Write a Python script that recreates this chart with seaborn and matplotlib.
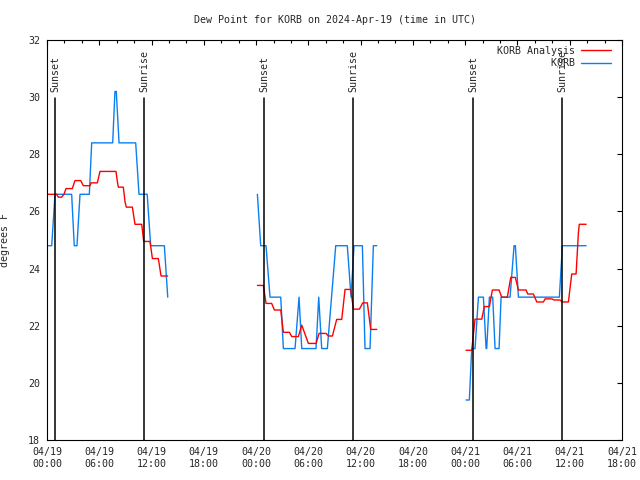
import pandas as pd
import seaborn as sns
import matplotlib.pyplot as plt
import matplotlib.dates as mdates
import matplotlib.transforms as mtransforms
from matplotlib.lines import Line2D

# hours after 2024-04-19 00:00 UTC, dew point in degrees F
obs_hours_1 = [0.15, 0.54, 0.92, 2.83, 3.13, 3.44, 3.79, 4.86, 5.13, 7.54, 7.80, 7.95,
               8.27, 10.18, 10.56, 11.50, 11.90, 13.47, 13.86]
obs_vals_1 = [24.8, 24.8, 26.6, 26.6, 24.8, 24.8, 26.6, 26.6, 28.4, 28.4, 30.2, 30.2,
              28.4, 28.4, 26.6, 26.6, 24.8, 24.8, 23.0]
obs_hours_2 = [24.15, 24.53, 25.14, 25.60, 26.83, 27.13, 28.47, 28.93, 29.24, 30.88, 31.19,
               31.53, 32.18, 33.14, 34.47, 34.90, 35.24, 36.20, 36.50, 37.08, 37.46, 37.85]
obs_vals_2 = [26.6, 24.8, 24.8, 23.0, 23.0, 21.2, 21.2, 23.0, 21.2, 21.2, 23.0,
              21.2, 21.2, 24.8, 24.8, 23.0, 24.8, 24.8, 21.2, 21.2, 24.8, 24.8]
obs_hours_3 = [48.10, 48.48, 48.75, 49.13, 49.52, 50.09, 50.40, 50.47, 50.78, 51.16, 51.43,
               51.89, 52.12, 53.15, 53.61, 53.76, 54.11, 58.81, 59.16, 61.88]
obs_vals_3 = [19.4, 19.4, 21.2, 21.2, 23.0, 23.0, 21.2, 21.2, 23.0, 23.0, 21.2,
              21.2, 23.0, 23.0, 24.8, 24.8, 23.0, 23.0, 24.8, 24.8]

ana_hours_1 = [0.15, 1.11, 1.30, 1.68, 1.95, 2.18, 2.91, 3.21, 3.87, 4.17, 4.94, 5.05, 5.78,
               6.08, 7.92, 8.05, 8.19, 8.76, 8.95, 9.10, 9.80, 10.10, 10.87, 11.10, 11.82,
               12.10, 12.78, 13.09, 13.85]
ana_vals_1 = [26.6, 26.6, 26.5, 26.5, 26.6, 26.8, 26.8, 27.08, 27.08, 26.9, 26.9, 27.0, 27.0,
              27.4, 27.4, 27.1, 26.85, 26.85, 26.35, 26.15, 26.15, 25.55, 25.55, 24.95, 24.95,
              24.35, 24.35, 23.74, 23.74]
ana_hours_2 = [24.15, 24.83, 25.14, 25.79, 26.10, 26.83, 27.13, 27.82, 28.09, 28.85, 29.24,
               30.00, 30.88, 31.23, 32.03, 32.30, 32.76, 33.25, 33.83, 34.21, 34.86, 35.17,
               35.86, 36.24, 36.77, 37.16, 37.85]
ana_vals_2 = [23.41, 23.41, 22.78, 22.78, 22.55, 22.55, 21.77, 21.77, 21.62, 21.62, 22.02,
              21.38, 21.38, 21.73, 21.73, 21.64, 21.64, 22.22, 22.22, 23.27, 23.27, 22.58,
              22.58, 22.80, 22.80, 21.87, 21.87]
ana_hours_3 = [48.10, 48.75, 49.13, 49.90, 50.20, 50.78, 51.12, 51.89, 52.19, 52.84, 53.23,
               53.76, 54.11, 54.99, 55.18, 55.83, 56.22, 56.98, 57.17, 57.94, 58.20, 58.89,
               59.16, 59.85, 60.23, 60.73, 61.00, 61.10, 61.88]
ana_vals_3 = [21.14, 21.14, 22.23, 22.23, 22.67, 22.67, 23.25, 23.25, 23.0, 23.0, 23.69,
              23.69, 23.25, 23.25, 23.11, 23.11, 22.83, 22.83, 22.94, 22.94, 22.90, 22.90,
              22.83, 22.83, 23.81, 23.81, 25.27, 25.55, 25.55]

sunset_hours = [0.95, 24.95, 48.94]
sunrise_hours = [11.17, 35.17, 59.16]

start = pd.Timestamp("2024-04-19 00:00")


def to_time(hours):
    return start + pd.to_timedelta(hours, unit="h")


rows = []
for seg, (h, v) in enumerate([(obs_hours_1, obs_vals_1), (obs_hours_2, obs_vals_2),
                              (obs_hours_3, obs_vals_3)]):
    rows.append(pd.DataFrame({"time": to_time(h), "value": v, "series": "KORB", "seg": f"o{seg}"}))
for seg, (h, v) in enumerate([(ana_hours_1, ana_vals_1), (ana_hours_2, ana_vals_2),
                              (ana_hours_3, ana_vals_3)]):
    rows.append(pd.DataFrame({"time": to_time(h), "value": v, "series": "KORB Analysis", "seg": f"a{seg}"}))
df = pd.concat(rows, ignore_index=True)

sns.set_style("white")
plt.rcParams["font.family"] = ["DejaVu Sans Mono"]
plt.rcParams["font.size"] = 7.2

colors = {"KORB Analysis": "#ff0000", "KORB": "#0a80f0"}

fig = plt.figure(figsize=(6.4, 4.8), dpi=100)
ax = fig.add_axes([47 / 640, 40 / 480, 575 / 640, 400 / 480])

sns.lineplot(data=df, x="time", y="value", hue="series", units="seg", estimator=None,
             palette=colors, linewidth=1.0, legend=False, ax=ax)

trans = mtransforms.blended_transform_factory(ax.transData, ax.transAxes)
for label, hrs in [("Sunset", sunset_hours), ("Sunrise", sunrise_hours)]:
    for h in hrs:
        t = mdates.date2num(to_time(h))
        ax.axvline(t, ymin=0, ymax=0.855, color="black", linewidth=1.1)
        ax.text(t, 0.87, label, rotation=90, ha="center", va="bottom", transform=trans)

ax.set_xlim(to_time(0), to_time(66))
ax.set_ylim(18, 32)
ax.set_yticks(range(18, 33, 2))
ax.xaxis.set_major_locator(mdates.HourLocator(byhour=range(0, 24, 6)))
ax.xaxis.set_minor_locator(mdates.HourLocator(byhour=range(0, 24, 2)))
ax.xaxis.set_major_formatter(mdates.DateFormatter("%m/%d\n%H:%M"))
ax.tick_params(which="both", direction="in", top=True, right=True, width=0.8, color="black")
ax.tick_params(which="major", length=3.5)
ax.tick_params(which="minor", length=2.5)
ax.tick_params(axis="x", pad=5)
ax.tick_params(axis="y", pad=5)
for s in ax.spines.values():
    s.set_color("black")
    s.set_linewidth(0.8)

ax.set_xlabel("")
ax.set_ylabel("degrees F", fontsize=7.2)
ax.yaxis.set_label_coords(-0.064, 0.5)
ax.set_title("Dew Point for KORB on 2024-Apr-19 (time in UTC)", fontsize=7.2, pad=12)

handles = [Line2D([], [], color=colors["KORB Analysis"], linewidth=1.0),
           Line2D([], [], color=colors["KORB"], linewidth=1.0)]
ax.legend(handles, ["KORB Analysis", "         KORB"], loc="upper right", frameon=False,
          bbox_to_anchor=(1 - 6 / 575, 1 - 1 / 400),
          markerfirst=False, handlelength=3.0, handletextpad=0.6, labelspacing=0.25,
          borderaxespad=0.3, borderpad=0.2)

plt.savefig("out.png", dpi=100)
